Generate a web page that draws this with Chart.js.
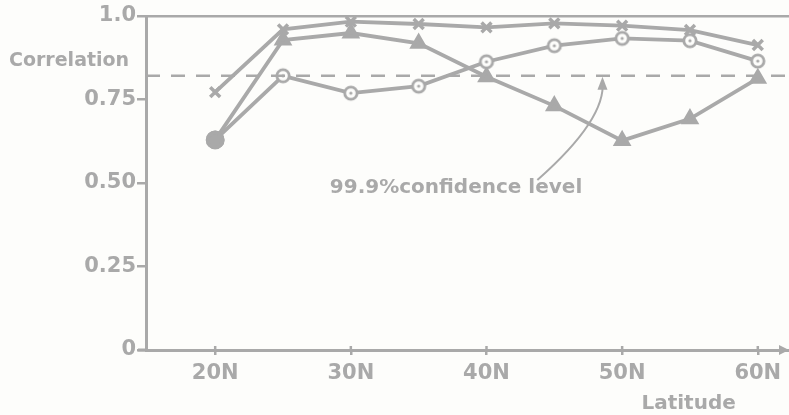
<!DOCTYPE html>
<html>
<head>
<meta charset="utf-8">
<script src="https://cdn.jsdelivr.net/npm/chart.js@4"></script>
<style>
  html, body { margin: 0; padding: 0; background: #fdfdfb; }
  canvas { display: block; }
</style>
</head>
<body>
<canvas id="corrChart" width="789" height="415"></canvas>
<script>
// latitude (deg N) of each plotted point
const latitudes = [20, 25, 30, 35, 40, 45, 50, 55, 60];
const crossSeries = [0.772, 0.960, 0.983, 0.976, 0.966, 0.978, 0.971, 0.958, 0.913];
const circleSeries = [0.629, 0.821, 0.769, 0.790, 0.863, 0.911, 0.933, 0.926, 0.865];
const triangleSeries = [0.629, 0.928, 0.949, 0.918, 0.818, 0.731, 0.627, 0.692, 0.813];
const confidenceLevel = 0.821;

const xTicks = [20, 30, 40, 50, 60];
const xTickLabels = ['20N', '30N', '40N', '50N', '60N'];
const yTicks = [0, 0.25, 0.5, 0.75, 1];
const yTickLabels = ['0', '0.25', '0.50', '0.75', '1.0'];

const xMin = 14.9, xMax = 62.3;
const ink = '#a9a9a9';
const font = "'DejaVu Sans', sans-serif";

// open circle with a dot in the middle
const ring = document.createElement('canvas');
ring.width = 18; ring.height = 18;
(function () {
    const c = ring.getContext('2d');
    c.fillStyle = '#fdfdfb';
    c.strokeStyle = ink;
    c.lineWidth = 2.8;
    c.beginPath(); c.arc(9, 9, 6.2, 0, Math.PI * 2); c.fill(); c.stroke();
    c.fillStyle = ink;
    c.beginPath(); c.arc(9, 9, 1.6, 0, Math.PI * 2); c.fill();
})();

const toPoints = (vals) => latitudes.map((x, i) => ({ x: x, y: vals[i] }));

const extras = {
    id: 'extras',
    afterDraw(chart) {
        const { ctx, chartArea, scales: { x, y } } = chart;
        ctx.save();
        ctx.strokeStyle = ink;
        ctx.fillStyle = ink;
        ctx.lineWidth = 3;

        // x axis stub left of the y axis and arrow at the right end
        ctx.beginPath();
        ctx.moveTo(chartArea.left - 8, chartArea.bottom);
        ctx.lineTo(chartArea.left, chartArea.bottom);
        ctx.stroke();
        ctx.beginPath();
        ctx.moveTo(chartArea.right, chartArea.bottom);
        ctx.lineTo(chartArea.right - 10, chartArea.bottom - 5);
        ctx.lineTo(chartArea.right - 10, chartArea.bottom + 5);
        ctx.closePath();
        ctx.fill();

        // x tick marks reach a little above the axis too
        ctx.lineWidth = 2.5;
        xTicks.forEach(v => {
            const px = x.getPixelForValue(v);
            ctx.beginPath();
            ctx.moveTo(px, chartArea.bottom);
            ctx.lineTo(px, chartArea.bottom - 4);
            ctx.stroke();
        });

        // axis titles
        ctx.font = 'bold 19px ' + font;
        ctx.textBaseline = 'middle';
        ctx.textAlign = 'left';
        ctx.fillText('Correlation', 9, y.getPixelForValue(0.865));
        ctx.font = 'bold 20px ' + font;
        ctx.textAlign = 'center';
        ctx.fillText('Latitude', x.getPixelForValue(54.9), chartArea.bottom + 54);

        // confidence level note with curved arrow
        ctx.textAlign = 'left';
        ctx.fillText('99.9%confidence level', x.getPixelForValue(28.45), y.getPixelForValue(0.486));
        ctx.lineWidth = 2;
        const sx = x.getPixelForValue(43.75), sy = y.getPixelForValue(0.509);
        const cx = x.getPixelForValue(48.86), cy = y.getPixelForValue(0.692);
        const ex = x.getPixelForValue(48.55), ey = y.getPixelForValue(0.805);
        ctx.beginPath();
        ctx.moveTo(sx, sy);
        ctx.quadraticCurveTo(cx, cy, ex, ey);
        ctx.stroke();
        const tipY = y.getPixelForValue(confidenceLevel) + 1;
        ctx.beginPath();
        ctx.moveTo(ex, tipY);
        ctx.lineTo(ex - 5, tipY + 13);
        ctx.lineTo(ex + 5, tipY + 13);
        ctx.closePath();
        ctx.fill();
        ctx.restore();
    }
};

const ctx = document.getElementById('corrChart').getContext('2d');
const corrChart = new Chart(ctx, {
    type: 'line',
    data: {
        datasets: [{
            label: 'confidence',
            data: [{ x: xMin, y: confidenceLevel }, { x: xMax, y: confidenceLevel }],
            borderColor: ink,
            borderWidth: 2.5,
            borderDash: [14, 11],
            pointRadius: 0
        }, {
            label: 'cross',
            data: toPoints(crossSeries),
            borderColor: ink,
            borderWidth: 3.8,
            pointStyle: 'crossRot',
            pointRadius: 7,
            pointBorderWidth: 3.5,
            pointBorderColor: ink,
            clip: false
        }, {
            label: 'circle',
            data: toPoints(circleSeries),
            borderColor: ink,
            borderWidth: 3.8,
            pointStyle: (c) => c.dataIndex === 0 ? 'circle' : ring,
            pointRadius: (c) => c.dataIndex === 0 ? 7.5 : 8,
            pointBackgroundColor: ink,
            pointBorderColor: ink,
            clip: false
        }, {
            label: 'triangle',
            data: toPoints(triangleSeries),
            borderColor: ink,
            borderWidth: 3.8,
            pointStyle: (c) => c.dataIndex === 0 ? 'circle' : 'triangle',
            pointRadius: (c) => c.dataIndex === 0 ? 7.5 : 7,
            pointBackgroundColor: ink,
            pointBorderColor: ink,
            clip: false
        }]
    },
    options: {
        responsive: false,
        animation: false,
        devicePixelRatio: 1,
        layout: { autoPadding: false, padding: { top: 16, right: 0, left: 0, bottom: 0 } },
        plugins: { legend: { display: false }, tooltip: { enabled: false } },
        scales: {
            x: {
                type: 'linear',
                min: xMin,
                max: xMax,
                afterBuildTicks: (scale) => { scale.ticks = xTicks.map(v => ({ value: v })); },
                afterFit: (scale) => { scale.height = 65; scale.paddingRight = 0; scale.paddingLeft = 0; },
                border: { display: true, color: ink, width: 3 },
                grid: { drawOnChartArea: false, color: ink, tickLength: 5, lineWidth: 2.5 },
                ticks: {
                    color: ink,
                    padding: 6,
                    maxRotation: 0,
                    font: { family: font, size: 21, weight: 'bold' },
                    callback: (v) => xTickLabels[xTicks.indexOf(v)]
                }
            },
            y: {
                min: 0,
                max: 1,
                afterBuildTicks: (scale) => { scale.ticks = yTicks.map(v => ({ value: v })); },
                afterFit: (scale) => { scale.width = 146; },
                border: { display: true, color: ink, width: 3 },
                grid: {
                    color: (c) => c.tick && c.tick.value === 1 ? ink : 'rgba(0,0,0,0)',
                    tickColor: ink,
                    tickLength: 9,
                    lineWidth: 2.5
                },
                ticks: {
                    color: ink,
                    padding: 1,
                    font: { family: font, size: 21, weight: 'bold' },
                    callback: (v) => yTickLabels[yTicks.indexOf(v)]
                }
            }
        }
    },
    plugins: [extras]
});
</script>
</body>
</html>
